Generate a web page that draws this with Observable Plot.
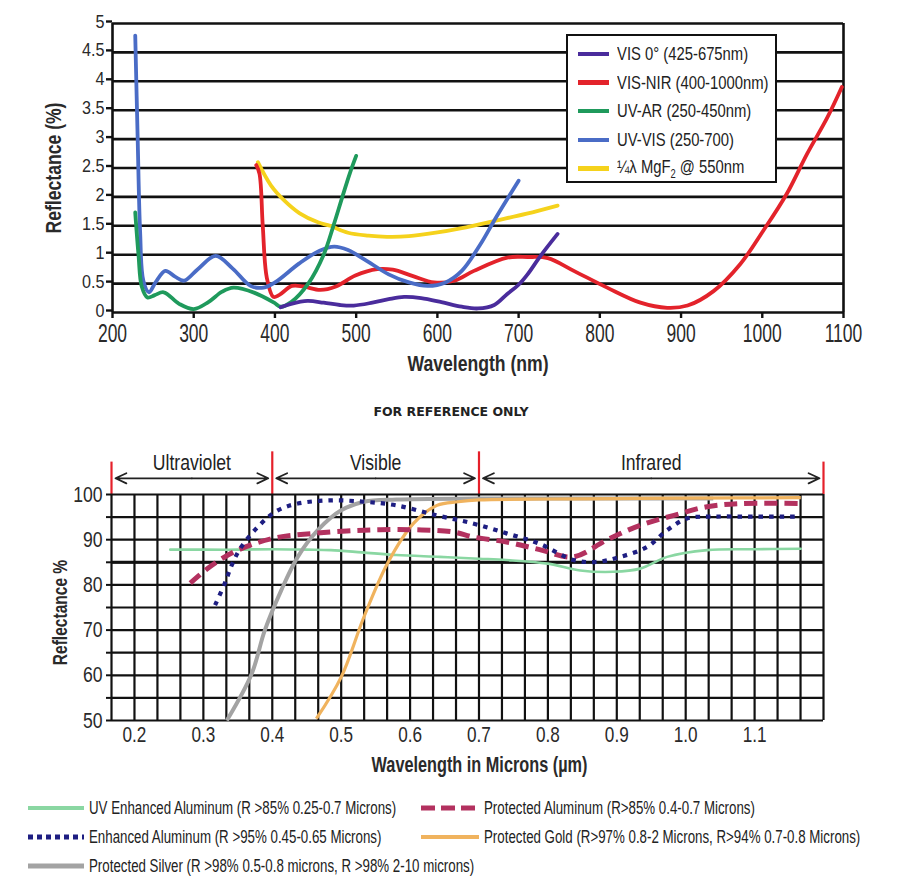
<!DOCTYPE html>
<html><head><meta charset="utf-8">
<script src="https://cdn.jsdelivr.net/npm/d3@7"></script>
<script src="https://cdn.jsdelivr.net/npm/@observablehq/plot@0.6"></script>
<style>
body{margin:0;background:#fff;}
#wrap{position:relative;width:902px;height:895px;overflow:hidden;font-family:"Liberation Sans",Arial,sans-serif;color:#222;}
.tlg{position:absolute;left:566px;top:34px;width:207px;height:145px;border:2px solid #111;background:#fff;}
.tlg .row{position:absolute;left:10px;height:24px;display:flex;align-items:center;font-size:19px;white-space:nowrap;}
.tlg .sw{display:inline-block;width:31px;height:4.5px;margin-right:8px;flex:none;}
.sq{display:inline-block;transform:scaleX(0.78);transform-origin:left center;}
.blg{position:absolute;display:flex;align-items:center;font-size:17.5px;white-space:nowrap;height:20px;}
.blg svg{margin-right:5px;flex:none;}
.blg .sq{transform:scaleX(0.76);}
#ref{position:absolute;top:404px;left:0;width:902px;text-align:center;font-family:"DejaVu Sans",sans-serif;font-weight:bold;font-size:12.5px;color:#222;}
</style></head><body><div id="wrap"></div>
<script>
// ---------- Top chart data (wavelength nm, reflectance %) ----------
const topXTicks = [200, 300, 400, 500, 600, 700, 800, 900, 1000, 1100];
const topYTicks = [0, 0.5, 1, 1.5, 2, 2.5, 3, 3.5, 4, 4.5, 5];

const vis0Nm = [407, 420, 440, 460, 480, 497, 520, 540, 559, 580, 605, 630, 650, 670, 686, 700, 711, 727, 748];
const vis0R  = [0.09, 0.15, 0.20, 0.17, 0.13, 0.12, 0.17, 0.23, 0.27, 0.25, 0.18, 0.10, 0.07, 0.13, 0.32, 0.48, 0.66, 0.98, 1.36];

const visNirNm = [377, 381, 385, 390, 398, 405, 421, 435, 456, 475, 499, 526, 545, 570, 596, 621, 645, 686, 711, 736, 768, 809, 850, 883, 908, 940, 973, 1001, 1030, 1055, 1080, 1098];
const visNirR  = [2.55, 2.40, 1.50, 0.60, 0.27, 0.30, 0.46, 0.45, 0.39, 0.45, 0.64, 0.75, 0.74, 0.63, 0.52, 0.55, 0.72, 0.95, 0.96, 0.94, 0.72, 0.43, 0.17, 0.08, 0.12, 0.37, 0.84, 1.41, 2.05, 2.74, 3.37, 3.90];

const uvArNm = [228, 232, 236, 243, 252, 263, 282, 300, 318, 335, 349, 375, 399, 407, 420, 441, 460, 472, 483, 492, 500];
const uvArR  = [1.73, 1.00, 0.45, 0.26, 0.30, 0.35, 0.15, 0.06, 0.18, 0.36, 0.43, 0.34, 0.17, 0.10, 0.18, 0.50, 1.00, 1.50, 2.00, 2.40, 2.71];

const uvVisNm = [228, 231, 234, 238, 245, 253, 265, 277, 288, 305, 327, 348, 370, 386, 400, 430, 455, 473, 490, 510, 540, 565, 588, 610, 630, 653, 672, 700];
const uvVisR  = [4.79, 3.00, 1.40, 0.55, 0.35, 0.52, 0.72, 0.62, 0.55, 0.75, 0.98, 0.76, 0.46, 0.43, 0.52, 0.85, 1.07, 1.14, 1.08, 0.92, 0.66, 0.52, 0.46, 0.52, 0.72, 1.18, 1.64, 2.28];

const mgf2Nm = [379, 395, 412, 430, 453, 468, 490, 515, 538, 565, 598, 630, 672, 710, 748];
const mgf2R  = [2.60, 2.20, 1.93, 1.72, 1.56, 1.50, 1.38, 1.33, 1.31, 1.32, 1.38, 1.46, 1.59, 1.71, 1.85];

const topNames  = ["VIS 0° (425-675nm)", "VIS-NIR (400-1000nm)", "UV-AR (250-450nm)", "UV-VIS (250-700)", "¼λ MgF₂ @ 550nm"];
const topColors = ["#4a2c9c", "#e3232b", "#1f9a5c", "#4a6cc6", "#f5d21c"];

// ---------- Bottom chart data (wavelength µm, reflectance %) ----------
const botXTicks = [0.2, 0.3, 0.4, 0.5, 0.6, 0.7, 0.8, 0.9, 1.0, 1.1];
const botYTicks = [50, 55, 60, 65, 70, 75, 80, 85, 90, 95, 100];
const regionNames = ["Ultraviolet", "Visible", "Infrared"];
const regionStart = [1 / 6, 0.4, 0.7];
const regionEnd   = [0.4, 0.7, 1.2];

const uvEnhUm = [0.252, 0.3, 0.35, 0.4, 0.45, 0.485, 0.53, 0.58, 0.643, 0.7, 0.74, 0.80, 0.847, 0.895, 0.934, 0.973, 1.031, 1.1, 1.167];
const uvEnhR  = [87.8, 87.8, 87.8, 87.9, 87.8, 87.7, 87.2, 86.6, 86.2, 85.8, 85.5, 84.7, 83.2, 82.9, 83.6, 86.2, 87.7, 87.9, 88.0];

const enhUm = [0.317, 0.331, 0.341, 0.355, 0.384, 0.408, 0.437, 0.485, 0.533, 0.58, 0.638, 0.691, 0.74, 0.788, 0.837, 0.871, 0.905, 0.944, 0.973, 1.002, 1.041, 1.1, 1.167];
const enhR  = [75.5, 80.3, 84.3, 88.4, 93.6, 96.5, 98.0, 98.7, 98.4, 97.6, 95.4, 93.6, 91.4, 89.1, 85.5, 85.1, 86.2, 88.4, 92.1, 94.7, 95.1, 95.1, 95.1];

const protUm = [0.281, 0.312, 0.35, 0.401, 0.461, 0.533, 0.605, 0.663, 0.691, 0.74, 0.788, 0.837, 0.885, 0.934, 0.983, 1.031, 1.08, 1.167];
const protR  = [80.4, 84.3, 87.7, 90.3, 91.4, 92.1, 92.2, 91.7, 90.6, 89.5, 87.8, 86.2, 89.9, 93.2, 95.4, 97.3, 98.0, 98.0];

const goldUm = [0.464, 0.5, 0.533, 0.567, 0.605, 0.639, 0.67, 0.7, 0.8, 0.9, 1.0, 1.167];
const goldR  = [50.4, 59.6, 72.9, 84.7, 93.6, 97.6, 98.4, 98.8, 99.0, 99.1, 99.2, 99.3];

const silverUm = [0.334, 0.37, 0.389, 0.413, 0.437, 0.466, 0.5, 0.533, 0.58, 0.7, 0.9, 1.04];
const silverR  = [50.0, 60.3, 69.9, 78.8, 86.2, 92.1, 96.5, 98.4, 98.9, 99.1, 99.1, 99.1];

const botNames = [
  "UV Enhanced Aluminum (R >85% 0.25-0.7 Microns)",
  "Enhanced Aluminum (R >95% 0.45-0.65 Microns)",
  "Protected Silver (R >98% 0.5-0.8 microns, R >98% 2-10 microns)",
  "Protected Aluminum (R>85% 0.4-0.7 Microns)",
  "Protected Gold (R>97% 0.8-2 Microns, R>94% 0.7-0.8 Microns)"
];
const botColors = ["#8ad7a2", "#1e1e82", "#a3a3a3", "#b3315f", "#f0b35e"];

// ---------- build ----------
const FONT = '"Liberation Sans",Arial,sans-serif';
const wrap = document.getElementById("wrap");
const zip = (xs, ys) => xs.map((x, i) => ({x, y: ys[i]}));

// horizontally condense svg texts (the reference uses a condensed face)
function squeeze(svg, selector, k) {
  svg.querySelectorAll(selector).forEach(t => {
    let tr = t.getAttribute("transform");
    if (!tr) {
      const x = t.getAttribute("x") || 0, y = t.getAttribute("y") || 0;
      t.removeAttribute("x"); t.removeAttribute("y");
      tr = `translate(${x},${y})`;
    }
    t.setAttribute("transform", tr + ` scale(${k},1)`);
  });
}

const topSeries = [
  {i: 4, d: zip(mgf2Nm, mgf2R)},
  {i: 1, d: zip(visNirNm, visNirR)},
  {i: 3, d: zip(uvVisNm, uvVisR)},
  {i: 2, d: zip(uvArNm, uvArR)},
  {i: 0, d: zip(vis0Nm, vis0R)}
];

const topPlot = Plot.plot({
  width: 902, height: 385,
  marginLeft: 112, marginRight: 59, marginTop: 23, marginBottom: 73,
  style: {background: "transparent", fontFamily: FONT, color: "#2a2a2a", overflow: "visible"},
  x: {domain: [200, 1100]},
  y: {domain: [0, 5]},
  marks: [
    Plot.ruleY(topYTicks, {stroke: "#111", strokeWidth: 2.6}),
    Plot.ruleX([200, 1100], {stroke: "#111", strokeWidth: 2.6}),
    Plot.axisY({ticks: topYTicks, tickSize: 6, tickPadding: 2, fontSize: 19, dy: -2, tickFormat: d => String(d), strokeWidth: 2.4, stroke: "#111", label: null}),
    Plot.axisX({ticks: topXTicks, tickSize: 6, tickPadding: 6, fontSize: 25, tickFormat: d => String(d), strokeWidth: 2.4, stroke: "#111", label: null}),
    ...topSeries.map(s => Plot.line(s.d, {x: "x", y: "y", stroke: topColors[s.i], strokeWidth: 3.8, curve: "catmull-rom"})),
    Plot.text(["Wavelength (nm)"], {text: d => d, frameAnchor: "bottom", lineAnchor: "middle", dy: 51, fontSize: 22, fontWeight: "bold"}),
    Plot.text(["Reflectance (%)"], {text: d => d, frameAnchor: "left", textAnchor: "middle", lineAnchor: "middle", dx: -59, rotate: -90, fontSize: 22, fontWeight: "bold"})
  ]
});
squeeze(topPlot, 'g[aria-label="x-axis tick label"] text', 0.7);
squeeze(topPlot, 'g[aria-label="y-axis tick label"] text', 0.85);
squeeze(topPlot, 'g[aria-label="text"] text', 0.8);
topPlot.style.position = "absolute"; topPlot.style.left = "0px"; topPlot.style.top = "0px";
wrap.appendChild(topPlot);

// top legend
const tlg = document.createElement("div");
tlg.className = "tlg";
topNames.forEach((n, i) => {
  const r = document.createElement("div");
  r.className = "row";
  r.style.top = (6 + i * 28.6) + "px";
  const sw = document.createElement("span");
  sw.className = "sw"; sw.style.background = topColors[i];
  r.appendChild(sw);
  const t = document.createElement("span");
  t.className = "sq";
  if (i === 4) t.innerHTML = "¼λ MgF<sub style='font-size:12px'>2</sub> @ 550nm"; else t.textContent = n;
  r.appendChild(t);
  tlg.appendChild(r);
});
wrap.appendChild(tlg);

// reference note
const ref = document.createElement("div");
ref.id = "ref"; ref.textContent = "FOR REFERENCE ONLY";
wrap.appendChild(ref);

// region band above the lower chart
const regions = regionNames.map((n, i) => ({n, a: regionStart[i], b: regionEnd[i], m: (regionStart[i] + regionEnd[i]) / 2}));
const bounds = [regionStart[0], ...regionEnd];
const band = Plot.plot({
  width: 902, height: 54, marginLeft: 111, marginRight: 79, marginTop: 0, marginBottom: 0,
  style: {background: "transparent", fontFamily: FONT, color: "#222", overflow: "visible"},
  x: {domain: [1 / 6, 1.2], axis: null}, y: {domain: [0, 1], axis: null},
  marks: [
    Plot.ruleX(bounds, {x: d => d, y1: 0, y2: (d, i) => (i === 0 || i === bounds.length - 1) ? 0.6 : 0.79, stroke: "#e5202a", strokeWidth: 2.2}),
    Plot.arrow(regions, {x1: "m", x2: "a", y1: () => 0.3, y2: () => 0.3, insetEnd: 4, headLength: 10, headAngle: 50, strokeWidth: 1.8, stroke: "#222"}),
    Plot.arrow(regions, {x1: "m", x2: "b", y1: () => 0.3, y2: () => 0.3, insetEnd: 4, headLength: 10, headAngle: 50, strokeWidth: 1.8, stroke: "#222"}),
    Plot.text(regions, {x: "m", y: () => 0.58, text: "n", fontSize: 22})
  ]
});
squeeze(band, 'g[aria-label="text"] text', 0.8);
band.style.position = "absolute"; band.style.left = "0px"; band.style.top = "440px";
wrap.appendChild(band);

// bottom chart
const botGrid = d3.range(5, 37).map(k => k / 30);
const botSeries = [
  {i: 0, d: zip(uvEnhUm, uvEnhR), w: 2.6, dash: null, cap: "round"},
  {i: 2, d: zip(silverUm, silverR), w: 4, dash: null, cap: "butt"},
  {i: 4, d: zip(goldUm, goldR), w: 3.2, dash: null, cap: "butt"},
  {i: 3, d: zip(protUm, protR), w: 5, dash: "13,7", cap: "butt"},
  {i: 1, d: zip(enhUm, enhR), w: 4.2, dash: "4.5,6", cap: "butt"}
];
const botPlot = Plot.plot({
  width: 902, height: 325,
  marginLeft: 111, marginRight: 79, marginTop: 24, marginBottom: 75,
  style: {background: "transparent", fontFamily: FONT, color: "#2a2a2a", overflow: "visible"},
  x: {domain: [1 / 6, 1.2]},
  y: {domain: [50, 100]},
  marks: [
    Plot.ruleX(botGrid, {stroke: "#111", strokeWidth: 2.2}),
    Plot.ruleY(botYTicks, {stroke: "#111", strokeWidth: 2.2}),
    Plot.ruleY([85], {stroke: "#111", strokeWidth: 3}),
    Plot.axisY({ticks: botYTicks, tickSize: 5, tickPadding: 4, fontSize: 22, tickFormat: d => d % 10 === 0 ? String(d) : "", strokeWidth: 2, stroke: "#111", label: null}),
    Plot.axisX({ticks: botXTicks, tickSize: 0, tickPadding: 6, fontSize: 22, tickFormat: d => d.toFixed(1), label: null}),
    ...botSeries.map(s => Plot.line(s.d, {x: "x", y: "y", stroke: botColors[s.i], strokeWidth: s.w, strokeDasharray: s.dash, strokeLinecap: s.cap, curve: "catmull-rom"})),
    Plot.text(["Wavelength in Microns (µm)"], {text: d => d, frameAnchor: "bottom", lineAnchor: "middle", dx: 12, dy: 44, fontSize: 22, fontWeight: "bold"}),
    Plot.text(["Reflectance %"], {text: d => d, frameAnchor: "left", textAnchor: "middle", lineAnchor: "middle", dx: -51, dy: 5, rotate: -90, fontSize: 21, fontWeight: "bold"})
  ]
});
squeeze(botPlot, 'g[aria-label="x-axis tick label"] text', 0.78);
squeeze(botPlot, 'g[aria-label="y-axis tick label"] text', 0.8);
squeeze(botPlot, 'g[aria-label="text"] text', 0.74);
botPlot.style.position = "absolute"; botPlot.style.left = "0px"; botPlot.style.top = "470px";
wrap.appendChild(botPlot);

// bottom legend
const legPos = [[28, 808], [28, 837], [28, 866], [421, 808], [421, 837]];
const legStyle = [
  {w: 4, dash: null}, {w: 5, dash: "5,4"}, {w: 5, dash: null}, {w: 5, dash: "14,6"}, {w: 4, dash: null}
];
botNames.forEach((n, i) => {
  const d = document.createElement("div");
  d.className = "blg";
  d.style.left = legPos[i][0] + "px"; d.style.top = (legPos[i][1] - 10) + "px";
  const ns = "http://www.w3.org/2000/svg";
  const sw = i < 3 ? 56 : 58;
  const svg = document.createElementNS(ns, "svg");
  svg.setAttribute("width", sw); svg.setAttribute("height", 10);
  const ln = document.createElementNS(ns, "line");
  ln.setAttribute("x1", 0); ln.setAttribute("x2", sw);
  ln.setAttribute("y1", 5); ln.setAttribute("y2", 5);
  ln.setAttribute("stroke", botColors[i]); ln.setAttribute("stroke-width", legStyle[i].w);
  if (legStyle[i].dash) ln.setAttribute("stroke-dasharray", legStyle[i].dash);
  svg.appendChild(ln);
  d.appendChild(svg);
  const t = document.createElement("span"); t.className = "sq"; t.textContent = n;
  d.appendChild(t);
  wrap.appendChild(d);
});
</script></body></html>
